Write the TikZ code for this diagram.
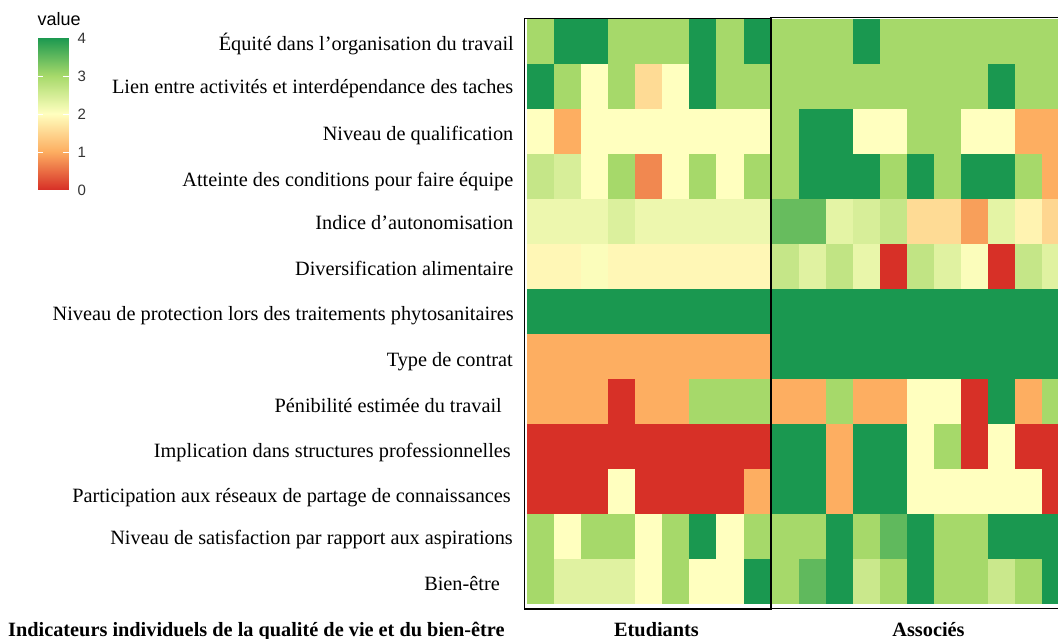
\documentclass[tikz,border=0pt]{standalone}
\usepackage{fontspec}
\setmainfont{Liberation Serif}
\setsansfont{Liberation Sans}
\usepackage{xcolor}
\usepackage{tikz}
\definecolor{val0}{HTML}{D73027}
\definecolor{val1}{HTML}{FDAE61}
\definecolor{val2}{HTML}{FFFFBF}
\definecolor{val3}{HTML}{A6D96A}
\definecolor{val4}{HTML}{1A9850}
\definecolor{tickgrey}{HTML}{333333}
% colour of a cell from its value (0 to 4)
\newcommand{\cellcolour}[1]{%
  \pgfmathtruncatemacro\cellLo{min(floor(#1),3)}%
  \pgfmathtruncatemacro\cellHi{\cellLo+1}%
  \pgfmathsetmacro\cellPc{100*(#1-\cellLo)}%
  \colorlet{cellc}{val\cellHi!\cellPc!val\cellLo}}

\begin{document}
\begin{tikzpicture}[x=1pt,y=-1pt,
    lab/.style={font=\fontsize{20.3}{24}\selectfont, anchor=base east, inner sep=0pt},
    grp/.style={font=\fontsize{20.3}{24}\selectfont\bfseries, anchor=base, inner sep=0pt},
    legtick/.style={font=\sffamily\fontsize{15}{17}\selectfont, text=tickgrey, anchor=west, inner sep=0pt}]
    \useasboundingbox (0,0) rectangle (1058,639);

    % etudiants
    \foreach \vals [count=\r] in {
        {3,4,4,3,3,3,4,3,4},
        {4,3,2,3,1.55,2,4,3,3},
        {2,1,2,2,2,2,2,2,2},
        {2.65,2.45,2,3,0.7,2,3,2,3},
        {2.2,2.2,2.2,2.4,2.2,2.2,2.2,2.2,2.2},
        {1.9,1.9,2.05,1.9,1.9,1.9,1.9,1.9,1.9},
        {4,4,4,4,4,4,4,4,4},
        {1,1,1,1,1,1,1,1,1},
        {1,1,1,0,1,1,3,3,3},
        {0,0,0,0,0,0,0,0,0},
        {0,0,0,2,0,0,0,0,1},
        {3,2,3,3,2,3,4,2,3},
        {3,2.35,2.35,2.35,2,3,2,2,4}}{
        \foreach \v [count=\c] in \vals {
            \cellcolour{\v}
            \fill[cellc] ({526.7+27.1*(\c-1)},{19+45*(\r-1)}) rectangle ++(27.4,45.3);
        }
    }

    % associes
    \foreach \vals [count=\r] in {
        {3,3,3,4,3,3,3,3,3,3,3},
        {3,3,3,3,3,3,3,3,4,3,3},
        {3,4,4,2,2,3,3,2,2,1,1},
        {3,4,4,4,3,4,3,4,4,3,1},
        {3.45,3.45,2.3,2.45,2.65,1.55,1.55,0.88,2.3,1.85,1.5},
        {2.65,2.35,2.7,2.25,0,2.7,2.35,2.05,0,2.65,2.35},
        {4,4,4,4,4,4,4,4,4,4,4},
        {4,4,4,4,4,4,4,4,4,4,4},
        {1,1,3,1,1,2,2,0,4,1,3},
        {4,4,1,4,4,2,3,0,2,0,0},
        {4,4,1,4,4,2,2,2,2,2,0},
        {3,3,4,3,3.5,4,3,3,4,4,4},
        {3,3.5,4,2.6,3,4,3,3,2.6,3,4}}{
        \foreach \v [count=\c] in \vals {
            \cellcolour{\v}
            \fill[cellc] ({771.7+27*(\c-1)},{19+45*(\r-1)}) rectangle ++(27.3,45.3);
        }
    }

    % frames
    \draw[line width=1.6] (524.5,18.5) rectangle (770.7,609.2);
    \draw[line width=1.6] (1075,17.6) -- (771.2,17.6) -- (771.2,608.6) -- (1075,608.6);

    % row labels
    \foreach \y/\x/\txt [count=\n] in {
        50.5/514/Équité dans l’organisation du travail,
        94/513.5/Lien entre activités et interdépendance des taches,
        141/513.5/Niveau de qualification,
        187/513.5/Atteinte des conditions pour faire équipe,
        229.5/513.5/Indice d’autonomisation,
        275.5/513.5/Diversification alimentaire,
        320.5/514/Niveau de protection lors des traitements phytosanitaires,
        366/513/Type de contrat,
        412/502/Pénibilité estimée du travail,
        457.5/511/Implication dans structures professionnelles,
        502/511/Participation aux réseaux de partage de connaissances,
        544/513/Niveau de satisfaction par rapport aux aspirations,
        590/500/Bien-être}
        \node[lab] (ind\n) at (\x,\y) {\txt};

    % axis texts
    \node[grp, anchor=base west] (axistitle) at (8,636) {Indicateurs individuels de la qualité de vie et du bien-être};
    \node[grp] (etud) at (656.5,636) {Etudiants};
    \node[grp] (assoc) at (928.5,636) {Associés};

    % legend
    \node[font=\sffamily\fontsize{18}{20}\selectfont, anchor=base west, inner sep=0pt] (legtitle) at (37.5,26) {value};
    \foreach \i in {0,...,151} {
        \cellcolour{(\i+0.5)/38}
        \fill[cellc] (37.5,{190.3-\i}) rectangle (68.5,{188.7-\i});
    }
    \foreach \t in {1,2,3} {
        \draw[white, line width=0.8] (37.5,{190-38*\t}) -- ++(5.5,0);
        \draw[white, line width=0.8] (68.5,{190-38*\t}) -- ++(-5.5,0);
    }
    \foreach \t in {0,...,4}
        \node[legtick] (tick\t) at (77.5,{190-38*\t}) {\t};
\end{tikzpicture}
\end{document}
